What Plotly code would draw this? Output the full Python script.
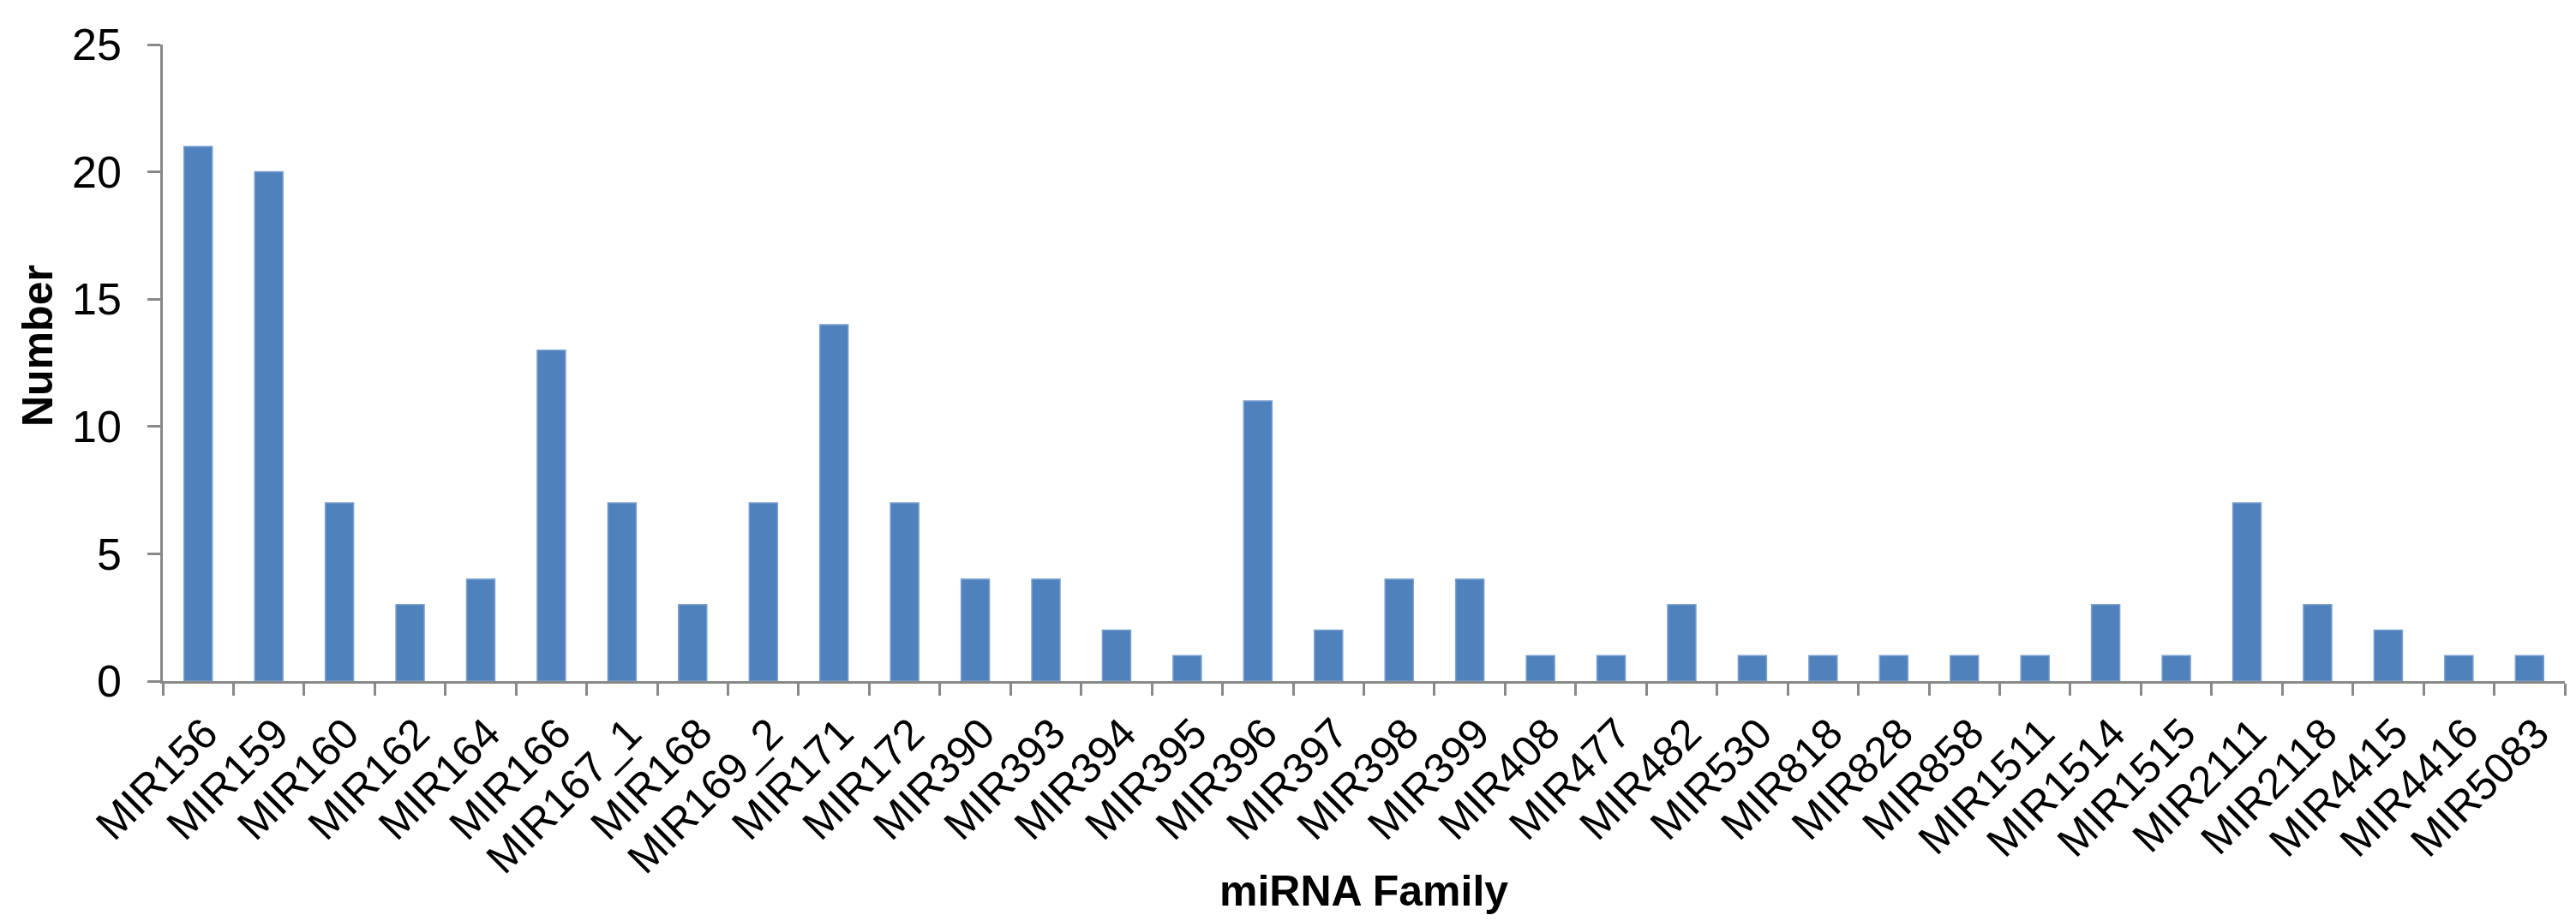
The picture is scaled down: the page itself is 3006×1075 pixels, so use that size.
import plotly.graph_objects as go

families = ["MIR156", "MIR159", "MIR160", "MIR162", "MIR164", "MIR166", "MIR167_1", "MIR168",
            "MIR169_2", "MIR171", "MIR172", "MIR390", "MIR393", "MIR394", "MIR395", "MIR396",
            "MIR397", "MIR398", "MIR399", "MIR408", "MIR477", "MIR482", "MIR530", "MIR818",
            "MIR828", "MIR858", "MIR1511", "MIR1514", "MIR1515", "MIR2111", "MIR2118",
            "MIR4415", "MIR4416", "MIR5083"]
numbers = [21, 20, 7, 3, 4, 13, 7, 3, 7, 14, 7, 4, 4, 2, 1, 11, 2, 4, 4, 1, 1, 3, 1, 1,
           1, 1, 1, 3, 1, 7, 3, 2, 1, 1]
y_ticks = [0, 5, 10, 15, 20, 25]

FONT = "Liberation Sans, Arial, sans-serif"
AXIS_COLOR = "#898989"
YTICK_SIZE = 52
XTICK_SIZE = 50
TITLE_SIZE = 50

fig = go.Figure(go.Bar(
    x=families, y=numbers,
    marker=dict(color="#4F81BD", line=dict(color="#7A9FD0", width=1.5)),
))

fig.update_layout(
    width=3006, height=1075,
    margin=dict(l=182, r=21, t=44, b=288),
    plot_bgcolor="white", paper_bgcolor="white",
    bargap=0.6,
    showlegend=False,
    font=dict(family=FONT, color="black"),
    annotations=[
        dict(text="<b>miRNA Family</b>", xref="paper", yref="paper", x=0.5, y=-0.3,
             xanchor="center", yanchor="middle", showarrow=False,
             font=dict(size=TITLE_SIZE, family=FONT, color="black")),
        dict(text="<b>Number</b>", xref="paper", yref="paper", x=0, y=0.5,
             xanchor="center", yanchor="middle", showarrow=False, textangle=-90,
             font=dict(size=TITLE_SIZE, family=FONT, color="black")),
    ],
)
# position titles in pixels relative to the plot area
plot_h = 1075 - 44 - 288
plot_w = 3006 - 182 - 21
fig.layout.annotations[0].y = -(1032 - 787) / plot_h
fig.layout.annotations[1].x = -(182 - 36) / plot_w
fig.layout.annotations[1].y = (787 - 396) / plot_h

fig.update_xaxes(
    type="category",
    tickangle=-45,
    tickfont=dict(size=XTICK_SIZE, family=FONT, color="black"),
    showline=True, linecolor=AXIS_COLOR, linewidth=2.5,
    ticks="outside", tickson="boundaries", ticklen=14, tickcolor=AXIS_COLOR, tickwidth=2.5,
    ticklabelstandoff=9, ticklabelshift=8,
    showgrid=False,
)

fig.update_yaxes(
    range=[0, 25],
    tickvals=y_ticks,
    tickfont=dict(size=YTICK_SIZE, family=FONT, color="black"),
    showline=True, linecolor=AXIS_COLOR, linewidth=2.5,
    ticks="outside", ticklen=15, tickcolor=AXIS_COLOR, tickwidth=2.5,
    ticklabelstandoff=20,
    showgrid=False, zeroline=False,
)

fig.write_html("out.html")
